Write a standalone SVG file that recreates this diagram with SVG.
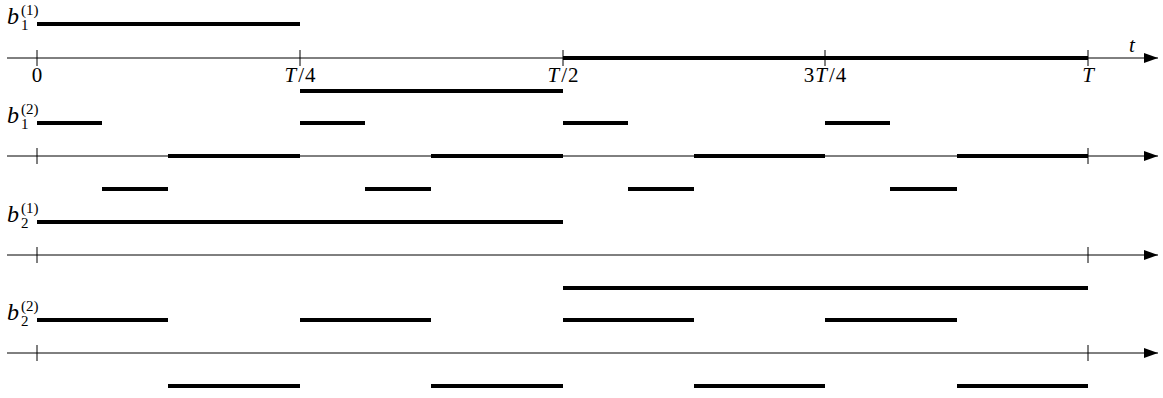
<svg xmlns="http://www.w3.org/2000/svg" width="1163" height="398" viewBox="0 0 1163 398">
<style>
.ax{stroke:#000;stroke-width:1;fill:none}
.tk{stroke:#000;stroke-width:1}
.bar{stroke:#000;stroke-width:4;fill:none}
.lbl{font-family:"Liberation Serif","DejaVu Serif",serif;font-size:21px;fill:#000}
.it{font-style:italic}
.bb{font-size:24px}
.sm{font-size:15px}
</style>
<defs>
<marker id="arr" markerWidth="14" markerHeight="10" refX="14" refY="5" orient="auto" markerUnits="userSpaceOnUse">
<path d="M0,0 L14,5 L0,10 Z" fill="#000"/>
</marker>
</defs>
<g id="connectors">
<line class="ax" x1="7" y1="58" x2="1158" y2="58" marker-end="url(#arr)"/>
<line class="ax" x1="7" y1="156" x2="1158" y2="156" marker-end="url(#arr)"/>
<line class="ax" x1="7" y1="255" x2="1158" y2="255" marker-end="url(#arr)"/>
<line class="ax" x1="7" y1="353" x2="1158" y2="353" marker-end="url(#arr)"/>
</g>
<g id="row1">
<line class="tk" x1="37" y1="50" x2="37" y2="66"/>
<line class="tk" x1="300" y1="50" x2="300" y2="66"/>
<line class="tk" x1="563" y1="50" x2="563" y2="66"/>
<line class="tk" x1="825" y1="50" x2="825" y2="66"/>
<line class="tk" x1="1088" y1="50" x2="1088" y2="66"/>
<text class="lbl" x="37" y="82" text-anchor="middle">0</text>
<text class="lbl" x="300" y="82" text-anchor="middle"><tspan class="it">T</tspan><tspan dx="2">/</tspan><tspan dx="1">4</tspan></text>
<text class="lbl" x="563" y="82" text-anchor="middle"><tspan class="it">T</tspan><tspan dx="2">/</tspan><tspan dx="1">2</tspan></text>
<text class="lbl" x="825" y="82" text-anchor="middle">3<tspan class="it" dx="1">T</tspan><tspan dx="2">/</tspan><tspan dx="1">4</tspan></text>
<text class="lbl it" x="1088" y="82" text-anchor="middle">T</text>
<text class="lbl it" x="1132" y="52" text-anchor="middle">t</text>
<text class="lbl it bb" x="7" y="24">b</text>
<text class="lbl sm" x="21" y="30">1</text>
<text class="lbl sm" x="21" y="15">(1)</text>
<line class="bar" x1="37" y1="24" x2="300" y2="24"/>
<line class="bar" x1="300" y1="91" x2="563" y2="91"/>
<line class="bar" x1="563" y1="58" x2="1088" y2="58"/>
</g>
<g id="row2">
<line class="tk" x1="37" y1="148" x2="37" y2="164"/>
<line class="tk" x1="1088" y1="148" x2="1088" y2="164"/>
<text class="lbl it bb" x="7" y="123">b</text>
<text class="lbl sm" x="21" y="129">1</text>
<text class="lbl sm" x="21" y="114">(2)</text>
<path class="bar" d="M37,123H102M300,123H365M563,123H628M825,123H890"/>
<path class="bar" d="M168,156H300M431,156H563M694,156H825M957,156H1088"/>
<path class="bar" d="M102,189H168M365,189H431M628,189H694M890,189H957"/>
</g>
<g id="row3">
<line class="tk" x1="37" y1="247" x2="37" y2="263"/>
<line class="tk" x1="1088" y1="247" x2="1088" y2="263"/>
<text class="lbl it bb" x="7" y="222">b</text>
<text class="lbl sm" x="21" y="228">2</text>
<text class="lbl sm" x="21" y="213">(1)</text>
<path class="bar" d="M37,222H563"/>
<path class="bar" d="M563,288H1088"/>
</g>
<g id="row4">
<line class="tk" x1="37" y1="345" x2="37" y2="361"/>
<line class="tk" x1="1088" y1="345" x2="1088" y2="361"/>
<text class="lbl it bb" x="7" y="320">b</text>
<text class="lbl sm" x="21" y="326">2</text>
<text class="lbl sm" x="21" y="311">(2)</text>
<path class="bar" d="M37,320H168M300,320H431M563,320H694M825,320H957"/>
<path class="bar" d="M168,386H300M431,386H563M694,386H825M957,386H1088"/>
</g>
</svg>
